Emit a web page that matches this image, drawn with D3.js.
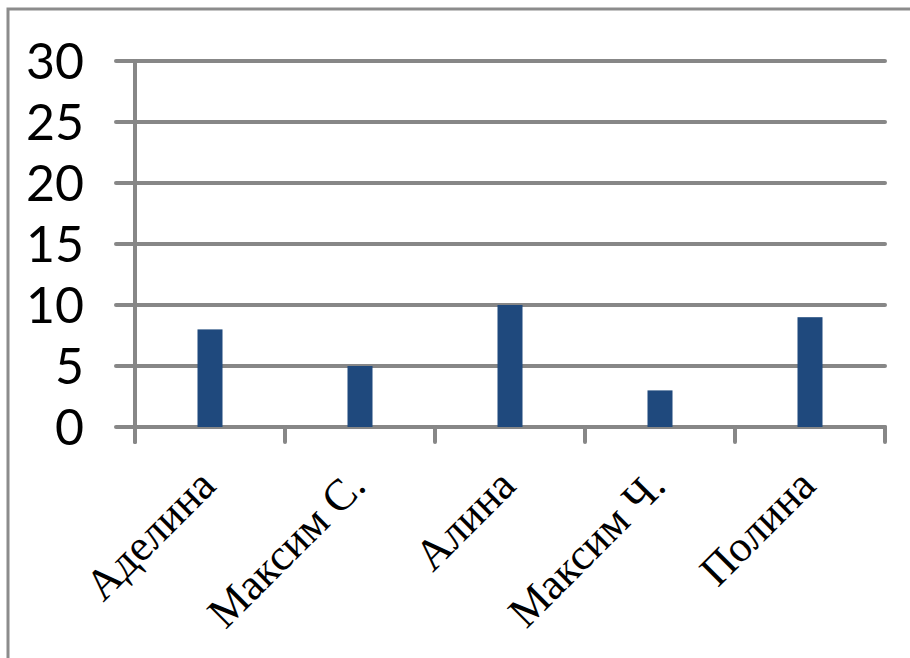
<!DOCTYPE html>
<html>
<head>
<meta charset="utf-8">
<script src="https://cdn.jsdelivr.net/npm/d3@7"></script>
<style>
  body { margin: 0; background: #fff; }
  svg { display: block; }
</style>
</head>
<body>
<script>
// data
var names  = ['Аделина', 'Максим С.', 'Алина', 'Максим Ч.', 'Полина'];
var scores = [8, 5, 10, 3, 9];
var yTicks = [0, 5, 10, 15, 20, 25, 30];

var W = 910, H = 658;
var plotL = 135, plotR = 885, plotT = 61, plotB = 427; // note: "top" is taken by window.top
var grey = '#878787';

var svg = d3.select('body').append('svg').attr('width', W).attr('height', H);

// outer frame of the chart area
svg.append('rect')
  .attr('x', 8).attr('y', 9).attr('width', W + 20).attr('height', H + 20)
  .attr('fill', 'none').attr('stroke', '#8c8c8c').attr('stroke-width', 3);

var x = d3.scaleBand().domain(names).range([plotL, plotR]);
var y = d3.scaleLinear().domain([0, 30]).range([plotB, plotT]);

// horizontal gridlines (these also act as the left tick marks)
svg.append('g').selectAll('line').data(yTicks).join('line')
  .attr('x1', plotL - 19).attr('x2', plotR)
  .attr('y1', function (d) { return y(d); }).attr('y2', function (d) { return y(d); })
  .attr('stroke', grey).attr('stroke-width', 4).attr('stroke-linecap', 'round');

// y axis line
svg.append('line')
  .attr('x1', plotL).attr('x2', plotL).attr('y1', y(30)).attr('y2', plotB + 15)
  .attr('stroke', grey).attr('stroke-width', 4).attr('stroke-linecap', 'round');

// category tick marks on the x axis
var edges = names.map(function (n) { return x(n); }).concat([plotR]);
svg.append('g').selectAll('line').data(edges).join('line')
  .attr('x1', function (d) { return d; }).attr('x2', function (d) { return d; })
  .attr('y1', plotB).attr('y2', plotB + 15)
  .attr('stroke', grey).attr('stroke-width', 4).attr('stroke-linecap', 'round');

// bars
var barW = 25;
svg.append('g').selectAll('rect').data(names).join('rect')
  .attr('x', function (d) { return x(d) + x.bandwidth() / 2 - barW / 2; })
  .attr('y', function (d, i) { return y(scores[i]); })
  .attr('width', barW)
  .attr('height', function (d, i) { return plotB - y(scores[i]); })
  .attr('fill', '#1f497d');

// y tick labels
svg.append('g').selectAll('text').data(yTicks).join('text')
  .attr('x', 84).attr('y', function (d) { return y(d); })
  .attr('dy', '0.36em')
  .attr('text-anchor', 'end')
  .style('font-family', 'Lato, "Open Sans", sans-serif')
  .style('font-size', '50px')
  .attr('fill', '#000')
  .text(function (d) { return d; });

// rotated category labels
svg.append('g').selectAll('text').data(names).join('text')
  .attr('transform', function (d) {
    return 'translate(' + (x(d) + x.bandwidth() / 2 - 3) + ',' + 477 + ') rotate(-45)';
  })
  .attr('dy', '0.35em')
  .attr('text-anchor', 'end')
  .style('font-family', '"Liberation Serif", "Times New Roman", serif')
  .style('font-size', '44px')
  .attr('fill', '#000')
  .text(function (d) { return d; });
</script>
</body>
</html>
